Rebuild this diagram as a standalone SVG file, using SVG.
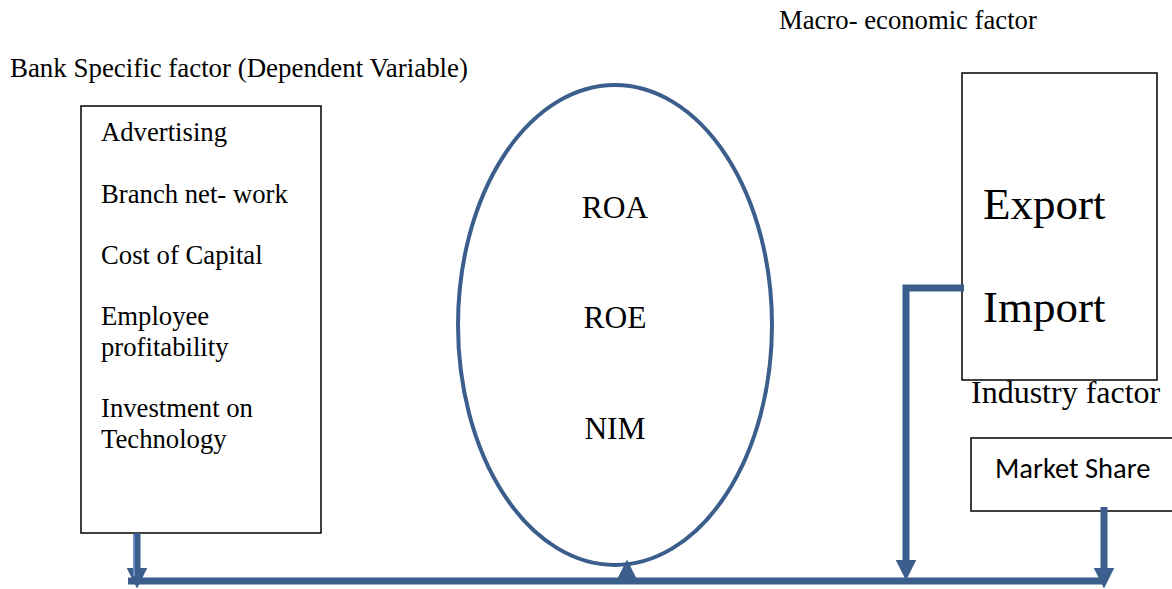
<svg xmlns="http://www.w3.org/2000/svg" width="1172" height="589" viewBox="0 0 1172 589">
<style>
.t{font-family:"Liberation Serif","Times New Roman",serif;fill:#000}
.box{fill:#fff;stroke:#000;stroke-width:1.5}
.c{fill:none;stroke:#3B5E8C;stroke-width:7}
</style>
<defs>
<marker id="ah" viewBox="0 0 10 10" refX="5" refY="5" markerWidth="3" markerHeight="3" orient="auto" markerUnits="strokeWidth">
<path d="M0,0 L10,5 L0,10 z" fill="#3B5E8C"/>
</marker>
</defs>
<rect width="1172" height="589" fill="#fff"/>
<text class="t" x="779" y="29" font-size="26.7">Macro- economic factor</text>
<text class="t" x="10" y="77" font-size="26.9">Bank Specific factor (Dependent Variable)</text>
<g id="bank">
<rect class="box" x="81" y="106" width="240" height="427"/>
<text class="t" font-size="26.7"><tspan x="101" y="141">Advertising</tspan><tspan x="101" y="203">Branch net- work</tspan><tspan x="101" y="264">Cost of Capital</tspan><tspan x="101" y="325">Employee</tspan><tspan x="101" y="356">profitability</tspan><tspan x="101" y="417">Investment on</tspan><tspan x="101" y="448">Technology</tspan></text>
</g>
<g id="perf">
<ellipse cx="615" cy="325" rx="157" ry="240" fill="#fff" stroke="#3B5E8C" stroke-width="4"/>
<text class="t" font-size="31.5" text-anchor="middle"><tspan x="615" y="218">ROA</tspan><tspan x="615" y="328">ROE</tspan><tspan x="615" y="439">NIM</tspan></text>
</g>
<g id="macro">
<rect class="box" x="962" y="73" width="195" height="307"/>
<text class="t" font-size="45"><tspan x="983" y="219">Export</tspan><tspan x="983" y="322">Import</tspan></text>
</g>
<text class="t" x="971" y="403" font-size="32">Industry factor</text>
<g id="industry">
<rect class="box" x="971" y="438" width="205" height="73"/>
<text x="995" y="478" font-size="28.5" font-family="Carlito,'Liberation Sans',Arial,sans-serif">Market Share</text>
</g>
<g id="connectors">
<path class="c" d="M137,533 V578" marker-end="url(#ah)"/>
<path d="M134,535 V576" stroke="#6a8fc4" stroke-width="2"/>
<path class="c" d="M128,581 H1102"/>
<path class="c" d="M627,581 V570" marker-end="url(#ah)"/>
<path class="c" d="M964,288 H906 V570" marker-end="url(#ah)"/>
<path class="c" d="M1104,507 V578" marker-end="url(#ah)"/>
</g>
</svg>
